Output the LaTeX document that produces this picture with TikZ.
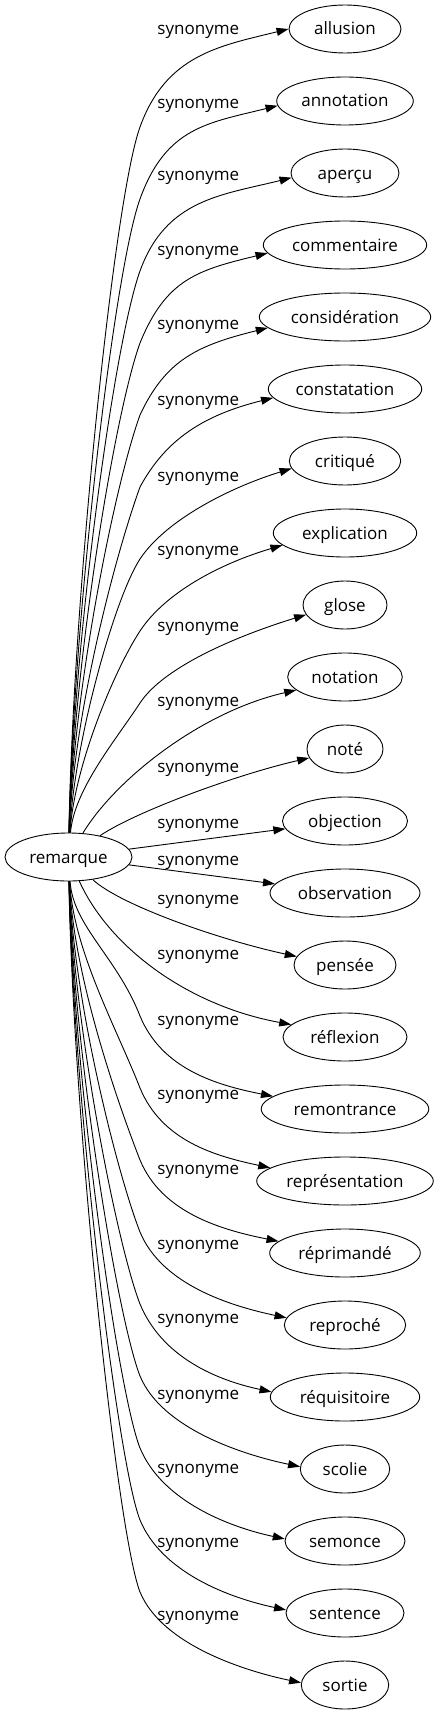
\documentclass[tikz,border=0pt]{standalone}
\usepackage{fontspec}
\setmainfont{Open Sans}
\usetikzlibrary{arrows.meta,shapes.geometric}
\begin{document}
\begin{tikzpicture}[x=1pt,y=-1pt,
  every node/.style={font=\fontsize{17}{20}\selectfont},
  word/.style={draw, ellipse, inner sep=0pt, minimum height=48pt, text height=14pt, text depth=2pt, line width=0.9pt},
  lbl/.style={inner sep=0pt, anchor=center},
  edge/.style={line width=0.9pt, -{Triangle[length=12pt,width=8pt]}}]
\useasboundingbox (0,0) rectangle (439,1715);

\node[word, minimum width=127pt] (remarque) at (68.5,857) {\makebox[0pt]{remarque}};

\node[word, minimum width=112pt] (allusion) at (345,29) {\makebox[0pt]{allusion}};
\node[word, minimum width=136.6pt] (annotation) at (345,101) {\makebox[0pt]{annotation}};
\node[word, minimum width=108pt] (apercu) at (345,173) {\makebox[0pt]{aperçu}};
\node[word, minimum width=163.4pt] (commentaire) at (345,245) {\makebox[0pt]{commentaire}};
\node[word, minimum width=171.4pt] (consideration) at (345,317) {\makebox[0pt]{considération}};
\node[word, minimum width=153.4pt] (constatation) at (345,389) {\makebox[0pt]{constatation}};
\node[word, minimum width=111.4pt] (critique) at (345,461) {\makebox[0pt]{critiqué}};
\node[word, minimum width=143.4pt] (explication) at (345,533) {\makebox[0pt]{explication}};
\node[word, minimum width=84pt] (glose) at (345,605) {\makebox[0pt]{glose}};
\node[word, minimum width=114.6pt] (notation) at (345,677) {\makebox[0pt]{notation}};
\node[word, minimum width=76pt] (note) at (345,749) {\makebox[0pt]{noté}};
\node[word, minimum width=125pt] (objection) at (345,821) {\makebox[0pt]{objection}};
\node[word, minimum width=150pt] (observation) at (345,893) {\makebox[0pt]{observation}};
\node[word, minimum width=102pt] (pensee) at (345,965) {\makebox[0pt]{pensée}};
\node[word, minimum width=124pt] (reflexion) at (345,1037) {\makebox[0pt]{réflexion}};
\node[word, minimum width=167.6pt] (remontrance) at (345,1109) {\makebox[0pt]{remontrance}};
\node[word, minimum width=176.6pt] (representation) at (345,1181) {\makebox[0pt]{représentation}};
\node[word, minimum width=150.6pt] (reprimande) at (345,1253) {\makebox[0pt]{réprimandé}};
\node[word, minimum width=121.4pt] (reproche) at (345,1325) {\makebox[0pt]{reproché}};
\node[word, minimum width=149.4pt] (requisitoire) at (345,1397) {\makebox[0pt]{réquisitoire}};
\node[word, minimum width=89.4pt] (scolie) at (345,1469) {\makebox[0pt]{scolie}};
\node[word, minimum width=120pt] (semonce) at (345,1541) {\makebox[0pt]{semonce}};
\node[word, minimum width=118pt] (sentence) at (345,1613) {\makebox[0pt]{sentence}};
\node[word, minimum width=87.4pt] (sortie) at (345,1685) {\makebox[0pt]{sortie}};

\node[lbl] (l0) at (198.3,32.3) {synonyme};
\node[lbl] (l1) at (198.3,106) {synonyme};
\node[lbl] (l2) at (198.3,178.3) {synonyme};
\node[lbl] (l3) at (198.3,253.3) {synonyme};
\node[lbl] (l4) at (198.3,326.7) {synonyme};
\node[lbl] (l5) at (198.3,403.3) {synonyme};
\node[lbl] (l6) at (198.3,479.3) {synonyme};
\node[lbl] (l7) at (198.3,553.3) {synonyme};
\node[lbl] (l8) at (198.3,629.3) {synonyme};
\node[lbl] (l9) at (198.3,704) {synonyme};
\node[lbl] (l10) at (198.3,770) {synonyme};
\node[lbl] (l11) at (198.3,826) {synonyme};
\node[lbl] (l12) at (198.3,863.3) {synonyme};
\node[lbl] (l13) at (198.3,901.7) {synonyme};
\node[lbl] (l14) at (198.3,957.3) {synonyme};
\node[lbl] (l15) at (198.3,1023.3) {synonyme};
\node[lbl] (l16) at (198.3,1097.3) {synonyme};
\node[lbl] (l17) at (198.3,1171.7) {synonyme};
\node[lbl] (l18) at (198.3,1246.7) {synonyme};
\node[lbl] (l19) at (198.3,1321) {synonyme};
\node[lbl] (l20) at (198.3,1396.7) {synonyme};
\node[lbl] (l21) at (198.3,1471) {synonyme};
\node[lbl] (l22) at (198.3,1545) {synonyme};
\node[lbl] (l23) at (198.3,1618.3) {synonyme};

\draw[edge] (remarque) .. controls (73,598) and (114,199) .. (140,127) .. controls (166,55) and (219,46) .. (allusion.180);
\draw[edge] (remarque) .. controls (73,622) and (114,271) .. (140,199) .. controls (166,127) and (208,123) .. (annotation.184);
\draw[edge] (remarque) .. controls (73,646) and (114,343) .. (140,271) .. controls (166,199) and (222,195) .. (apercu.185);
\draw[edge] (remarque) .. controls (73,670) and (114,415) .. (140,343) .. controls (166,279) and (198,270) .. (commentaire.186);
\draw[edge] (remarque) .. controls (73,694) and (114,487) .. (140,415) .. controls (166,359) and (199,345) .. (consideration.188);
\draw[edge] (remarque) .. controls (73,718) and (114,559) .. (140,487) .. controls (166,439) and (204,415) .. (constatation.187.5);
\draw[edge] (remarque) .. controls (74,742) and (115,597) .. (140,559) .. controls (165,521) and (228,488) .. (critique.188);
\draw[edge] (remarque) .. controls (74,766) and (115,669) .. (140,631) .. controls (165,593) and (219,564) .. (explication.191);
\draw[edge] (remarque) .. controls (74,790) and (115,741) .. (140,703) .. controls (165,665) and (243,634) .. (glose.194.7);
\draw[edge] (remarque) .. controls (115,780) and (200,712) .. (notation.195);
\draw[edge] (remarque) .. controls (135,812) and (235,775) .. (note.194);
\draw[edge] (remarque) -- (objection);
\draw[edge] (remarque) -- (observation);
\draw[edge] (remarque) .. controls (120,905) and (220,940) .. (pensee.170.6);
\draw[edge] (remarque) .. controls (108,945) and (185,1005) .. (reflexion.167.4);
\draw[edge] (remarque) .. controls (73,926) and (117,957) .. (140,1016) .. controls (162,1069) and (216,1085) .. (remontrance.170.6);
\draw[edge] (remarque) .. controls (73,950) and (117,1029) .. (140,1088) .. controls (162,1141) and (215,1156) .. (representation.170);
\draw[edge] (remarque) .. controls (73,974) and (117,1101) .. (140,1160) .. controls (162,1213) and (222,1230) .. (reprimande.170.7);
\draw[edge] (remarque) .. controls (73,998) and (117,1173) .. (140,1232) .. controls (162,1285) and (231,1306) .. (reproche.173);
\draw[edge] (remarque) .. controls (73,1022) and (117,1245) .. (140,1304) .. controls (162,1357) and (216,1380) .. (requisitoire.176);
\draw[edge] (remarque) .. controls (73,1046) and (117,1317) .. (140,1376) .. controls (162,1429) and (244,1455) .. (scolie.177.4);
\draw[edge] (remarque) .. controls (73,1070) and (117,1389) .. (140,1448) .. controls (162,1501) and (229,1527) .. (semonce.178);
\draw[edge] (remarque) .. controls (73,1094) and (117,1461) .. (140,1520) .. controls (162,1573) and (230,1598) .. (sentence.177);
\draw[edge] (remarque) .. controls (73,1118) and (117,1533) .. (140,1592) .. controls (162,1645) and (245,1671) .. (sortie.177.4);
\end{tikzpicture}
\end{document}
